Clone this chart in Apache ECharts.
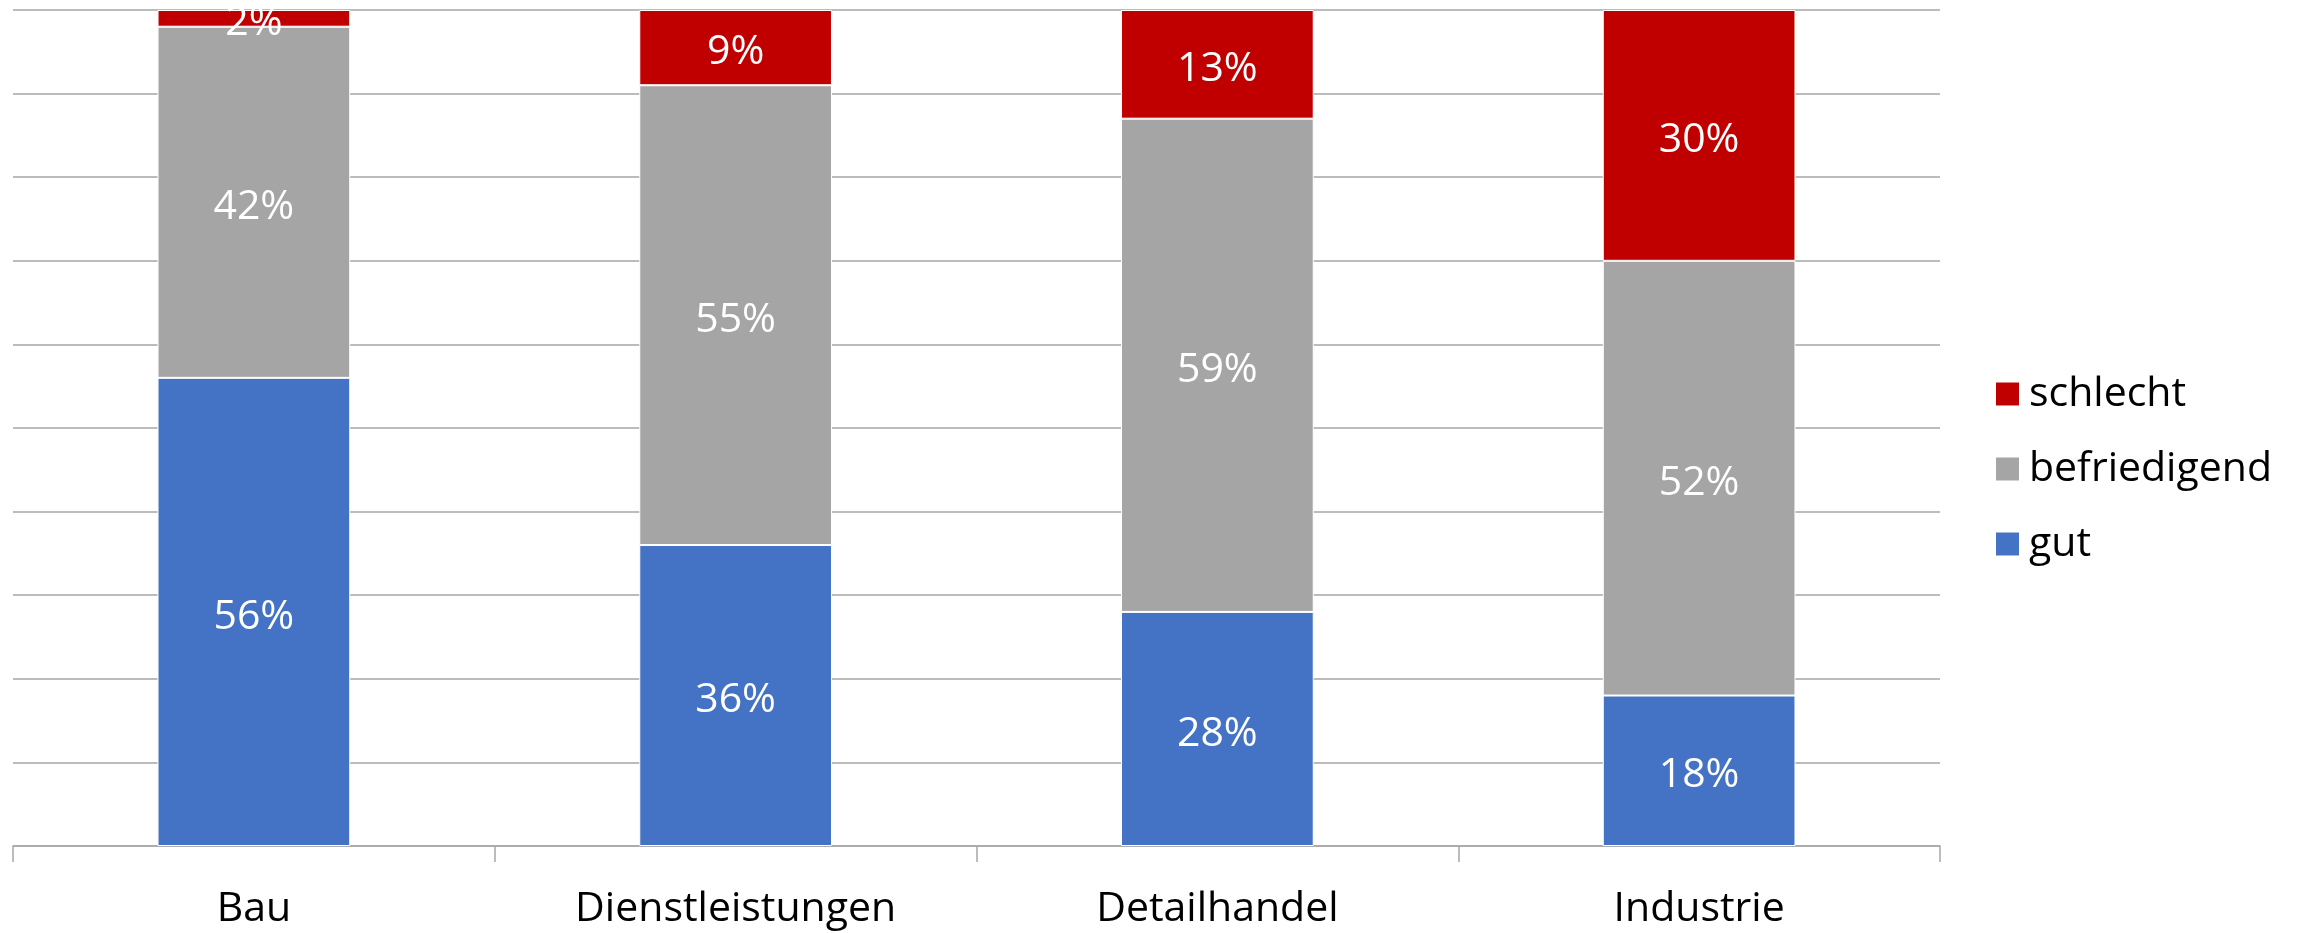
<!DOCTYPE html>
<html>
<head>
<meta charset="utf-8">
<title>Beurteilung nach Branche</title>
<script src="https://cdn.jsdelivr.net/npm/echarts@6/dist/echarts.min.js"></script>
<style>
  html, body { margin: 0; padding: 0; background: #fff; }
  #chart { width: 2303px; height: 933px; }
</style>
</head>
<body>
<div id="chart"></div>
<script>
  // ---------- Daten ----------
  var categories = ['Bau', 'Dienstleistungen', 'Detailhandel', 'Industrie'];
  var gut          = [56, 36, 28, 18];
  var befriedigend = [42, 55, 59, 52];
  var schlecht     = [2, 9, 13, 30];

  var FONT = '"Open Sans", "Noto Sans", sans-serif';

  var chart = echarts.init(document.getElementById('chart'));

  function barSeries(name, data, color) {
    return {
      name: name,
      type: 'bar',
      stack: 'total',
      barWidth: '40%',
      data: data,
      itemStyle: { color: color, borderColor: '#ffffff', borderWidth: 1 },
      label: {
        show: true,
        position: 'inside',
        offset: [0, 5],
        color: '#ffffff',
        fontFamily: FONT,
        fontSize: 41,
        formatter: '{c}%'
      }
    };
  }

  var option = {
    animation: false,
    backgroundColor: '#ffffff',
    grid: { left: 13, right: 363, top: 10, bottom: 87 },
    legend: {
      orient: 'vertical',
      left: 1989,
      top: 365,
      itemWidth: 25,
      itemHeight: 25,
      itemGap: 27,
      icon: 'rect',
      data: ['schlecht', 'befriedigend', 'gut'],
      textStyle: { color: '#000', fontFamily: FONT, fontSize: 41, lineHeight: 48, padding: [0, 0, 0, 4] }
    },
    xAxis: {
      type: 'category',
      data: categories,
      axisLine: { lineStyle: { color: '#a6a6a6', width: 1.5 } },
      axisTick: { show: true, length: 16, lineStyle: { color: '#a6a6a6', width: 1.5 } },
      axisLabel: { color: '#000', fontFamily: FONT, fontSize: 41, margin: 43 }
    },
    yAxis: {
      type: 'value',
      min: 0,
      max: 100,
      interval: 10,
      axisLine: { show: false },
      axisTick: { show: false },
      axisLabel: { show: false },
      splitLine: { lineStyle: { color: '#a6a6a6', width: 1.5 } }
    },
    series: [
      barSeries('gut', gut, '#4472c4'),
      barSeries('befriedigend', befriedigend, '#a5a5a5'),
      barSeries('schlecht', schlecht, '#c00000')
    ]
  };

  chart.setOption(option);
  window.addEventListener('resize', function () { chart.resize(); });
</script>
</body>
</html>
